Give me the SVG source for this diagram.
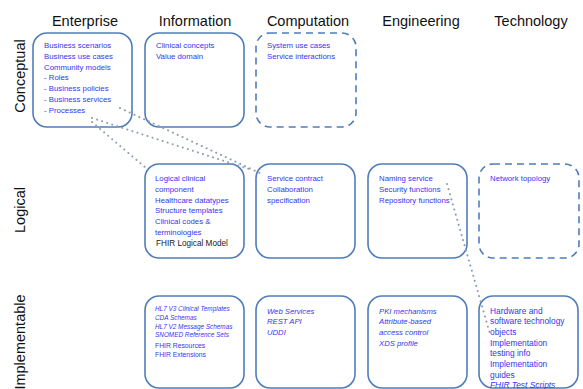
<svg xmlns="http://www.w3.org/2000/svg" width="583" height="389" viewBox="0 0 583 389">
<style>
.hdr{font-family:"Liberation Sans",Arial,sans-serif;font-size:14.5px;fill:#111;text-anchor:middle}
.box{fill:none;stroke:#4f7dba;stroke-width:1.6}
.dash{stroke-dasharray:7 5}
.t{font-family:"Liberation Sans",Arial,sans-serif;font-size:7.8px;fill:#3535f5}
.tk{fill:#222;font-size:8.2px}
.it{font-style:italic}
.s1{font-size:6.4px}
.s2{font-size:6.8px}
.s3{font-size:7.7px}
.s4{font-size:8.4px}
.dot{fill:none;stroke:#8e9db3;stroke-width:2;stroke-linecap:round;stroke-dasharray:0.1 5.2}
</style>
<rect width="583" height="389" fill="#fff"/>
<g id="headers">
<text class="hdr" x="85" y="26">Enterprise</text>
<text class="hdr" x="195" y="26">Information</text>
<text class="hdr" x="308" y="26">Computation</text>
<text class="hdr" x="421" y="26">Engineering</text>
<text class="hdr" x="531" y="26">Technology</text>
<text class="hdr" transform="translate(25,76) rotate(-90)">Conceptual</text>
<text class="hdr" transform="translate(25,210) rotate(-90)">Logical</text>
<text class="hdr" transform="translate(25,342) rotate(-90)">Implementable</text>
</g>
<g id="c-ent">
<rect class="box" x="33" y="33" width="99" height="94" rx="14"/>
<text class="t" x="44" y="48">Business scenarios</text>
<text class="t" x="44" y="58.8">Business use cases</text>
<text class="t" x="44" y="69.6">Community models</text>
<text class="t" x="44" y="80.4">- Roles</text>
<text class="t" x="44" y="91.2">- Business policies</text>
<text class="t" x="44" y="102">- Business services</text>
<text class="t" x="44" y="112.8">- Processes</text>
</g>
<g id="c-inf">
<rect class="box" x="145" y="33" width="99" height="94" rx="14"/>
<text class="t" x="156" y="48">Clinical concepts</text>
<text class="t" x="156" y="58.8">Value domain</text>
</g>
<g id="c-comp">
<rect class="box dash" x="256" y="33" width="100" height="94" rx="14"/>
<text class="t" x="267" y="48">System use cases</text>
<text class="t" x="267" y="58.8">Service interactions</text>
</g>
<g id="l-inf">
<rect class="box" x="145" y="164" width="99" height="94" rx="14"/>
<text class="t" x="155" y="181">Logical clinical</text>
<text class="t" x="155" y="191.8">component</text>
<text class="t" x="155" y="202.6">Healthcare datatypes</text>
<text class="t" x="155" y="213.4">Structure templates</text>
<text class="t" x="155" y="224.2">Clinical codes &amp;</text>
<text class="t" x="155" y="235">terminologies</text>
<text class="t tk" x="156" y="245.8">FHIR Logical Model</text>
</g>
<g id="l-comp">
<rect class="box" x="256" y="164" width="99" height="94" rx="14"/>
<text class="t" x="267" y="181">Service contract</text>
<text class="t" x="267" y="191.8">Collaboration</text>
<text class="t" x="267" y="202.6">specification</text>
</g>
<g id="l-eng">
<rect class="box" x="368" y="164" width="99" height="94" rx="14"/>
<text class="t" x="379" y="181">Naming service</text>
<text class="t" x="379" y="191.8">Security functions</text>
<text class="t" x="379" y="202.6">Repository functions</text>
</g>
<g id="l-tech">
<rect class="box dash" x="479" y="164" width="100" height="94" rx="14"/>
<text class="t" x="490" y="181">Network topology</text>
</g>
<g id="i-inf">
<rect class="box" x="145" y="296" width="99" height="92" rx="14"/>
<text class="t it s1" x="155" y="311.3">HL7 V3 Clinical Templates</text>
<text class="t it s1" x="155" y="320">CDA Schemas</text>
<text class="t it s1" x="155" y="328.6">HL7 V2 Message Schemas</text>
<text class="t it s1" x="155" y="337.3">SNOMED Reference Sets</text>
<text class="t s2" x="155" y="348.3">FHIR Resources</text>
<text class="t s2" x="155" y="357.3">FHIR Extensions</text>
</g>
<g id="i-comp">
<rect class="box" x="256" y="296" width="99" height="92" rx="14"/>
<text class="t it s3" x="267" y="313.5">Web Services</text>
<text class="t it s3" x="267" y="324.3">REST API</text>
<text class="t it s3" x="267" y="335">UDDI</text>
</g>
<g id="i-eng">
<rect class="box" x="368" y="296" width="99" height="92" rx="14"/>
<text class="t it s3" x="379" y="313.5">PKI mechanisms</text>
<text class="t it s3" x="379" y="324.3">Attribute-based</text>
<text class="t it s3" x="379" y="335">access control</text>
<text class="t it s3" x="379" y="345.5">XDS profile</text>
</g>
<g id="i-tech">
<rect class="box" x="479" y="296" width="99" height="92" rx="14"/>
<text class="t s4" x="490" y="313.5">Hardware and</text>
<text class="t s4" x="490" y="324.3">software technology</text>
<text class="t s4" x="490" y="335">objects</text>
<text class="t s4" x="490" y="345.5">Implementation</text>
<text class="t s4" x="490" y="356.2">testing info</text>
<text class="t s4" x="490" y="366.9">Implementation</text>
<text class="t s4" x="490" y="377.6">guides</text>
<text class="t it s4" x="490" y="388.3">FHIR Test Scripts</text>
</g>
<g id="conn">
<path class="dot" d="M120 108 L262 174"/>
<path class="dot" d="M92 118 L252 170"/>
<path class="dot" d="M92 122 L146 168"/>
<path class="dot" d="M447 184 L490 334"/>
</g>
</svg>
